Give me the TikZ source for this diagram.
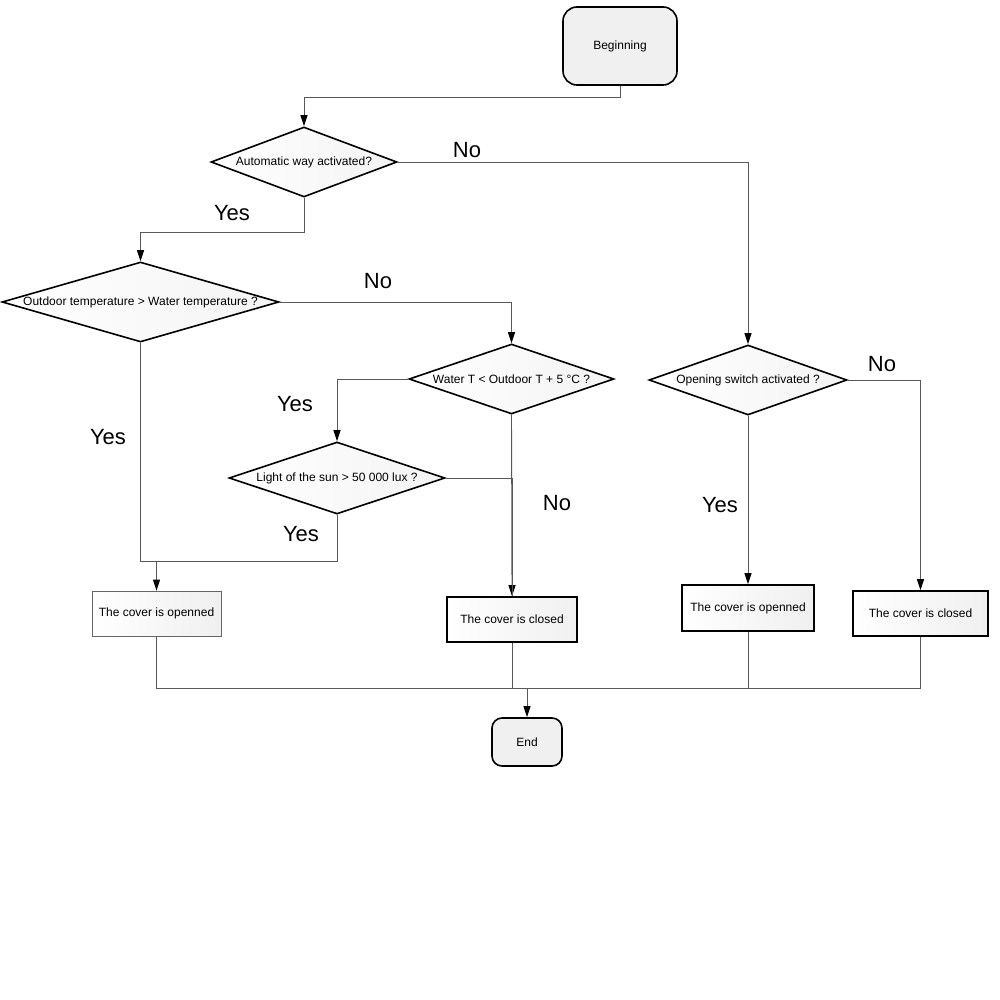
\documentclass[tikz,border=0pt]{standalone}
\usepackage{fontspec}
\setmainfont{Liberation Sans}
\usetikzlibrary{shapes.geometric}
\usetikzlibrary{arrows.meta}

\begin{document}
\begin{tikzpicture}[x=1pt, y=-1pt,
        terminal/.style={draw, line width=1.6pt, rounded corners=14pt, fill=gray!12, inner sep=0pt, font=\fontsize{12}{14}\selectfont},
        decision/.style={draw, diamond, aspect=3.5, line width=1.6pt, inner sep=0pt, left color=white, right color=gray!9, font=\fontsize{12}{14}\selectfont},
        action/.style={draw, line width=1.6pt, inner sep=0pt, left color=white, right color=gray!12, font=\fontsize{12}{14}\selectfont},
        link/.style={draw=black!65, line width=0.9pt},
        arrow/.style={link, -{Triangle[length=11pt, width=7pt, black]}},
        answer/.style={font=\fontsize{22}{26}\selectfont}]
        \useasboundingbox (0,0) rectangle (1000,1000);

        % start and end
        \node[terminal, minimum width=114pt, minimum height=78pt] (begin) at (620,46) {Beginning};
        \node[terminal, rounded corners=10pt, minimum width=70pt, minimum height=48pt] (end) at (527,742) {End};

        % questions
        \node[decision, minimum width=186pt, minimum height=70pt] (auto) at (304,162) {Automatic way activated?};
        \node[decision, minimum width=277pt, minimum height=80pt] (temp) at (140.5,302) {Outdoor temperature > Water temperature ?};
        \node[decision, minimum width=205pt, minimum height=70pt] (water) at (511.5,379) {Water T < Outdoor T + 5 °C ?};
        \node[decision, minimum width=216pt, minimum height=72pt] (sun) at (337,478) {Light of the sun > 50 000 lux ?};
        \node[decision, minimum width=198pt, minimum height=70pt] (switch) at (748,380) {Opening switch activated ?};

        % cover states
        \node[action, draw=black!60, line width=0.8pt, minimum width=129pt, minimum height=45pt] (open1) at (156.5,613.5) {The cover is openned};
        \node[action, minimum width=130pt, minimum height=45pt] (close1) at (512,619.5) {The cover is closed};
        \node[action, minimum width=132pt, minimum height=46pt] (open2) at (748,608) {The cover is openned};
        \node[action, minimum width=135pt, minimum height=45pt] (close2) at (920.5,613.5) {The cover is closed};

        % junctions
        \coordinate (joinopen) at (156.5,561);
        \coordinate (joinend) at (527,688);

        % links
        \draw[arrow] (begin.south) -- ++(0,12) -| (auto.north);
        \draw[arrow] (auto.east) -| (switch.north);
        \draw[arrow] (auto.south) -- ++(0,35) -| (temp.north);
        \draw[arrow] (temp.east) -| (water.north);
        \draw[link] (temp.south) |- (joinopen);
        \draw[arrow] (water.west) -| (sun.north);
        \draw[arrow] (water.south) -- (close1.north);
        \draw[link] (sun.south) |- (joinopen);
        \draw[link] (sun.east) -| (close1.north);
        \draw[arrow] (joinopen) -- (open1.north);
        \draw[arrow] (switch.south) -- (open2.north);
        \draw[arrow] (switch.east) -| (close2.north);

        \foreach \state in {open1, close1, open2, close2} {
            \draw[link] (\state.south) |- (joinend);
        }
        \draw[arrow] (joinend) -- (end.north);

        % answers
        \node[answer] (no1) at (467,150) {No};
        \node[answer] (yes1) at (232,213) {Yes};
        \node[answer] (no2) at (378,281) {No};
        \node[answer] (yes2) at (108,437) {Yes};
        \node[answer] (yes3) at (295,404) {Yes};
        \node[answer] (no3) at (557,503) {No};
        \node[answer] (yes4) at (301,534) {Yes};
        \node[answer] (yes5) at (720,505) {Yes};
        \node[answer] (no4) at (882,364) {No};
\end{tikzpicture}
\end{document}
